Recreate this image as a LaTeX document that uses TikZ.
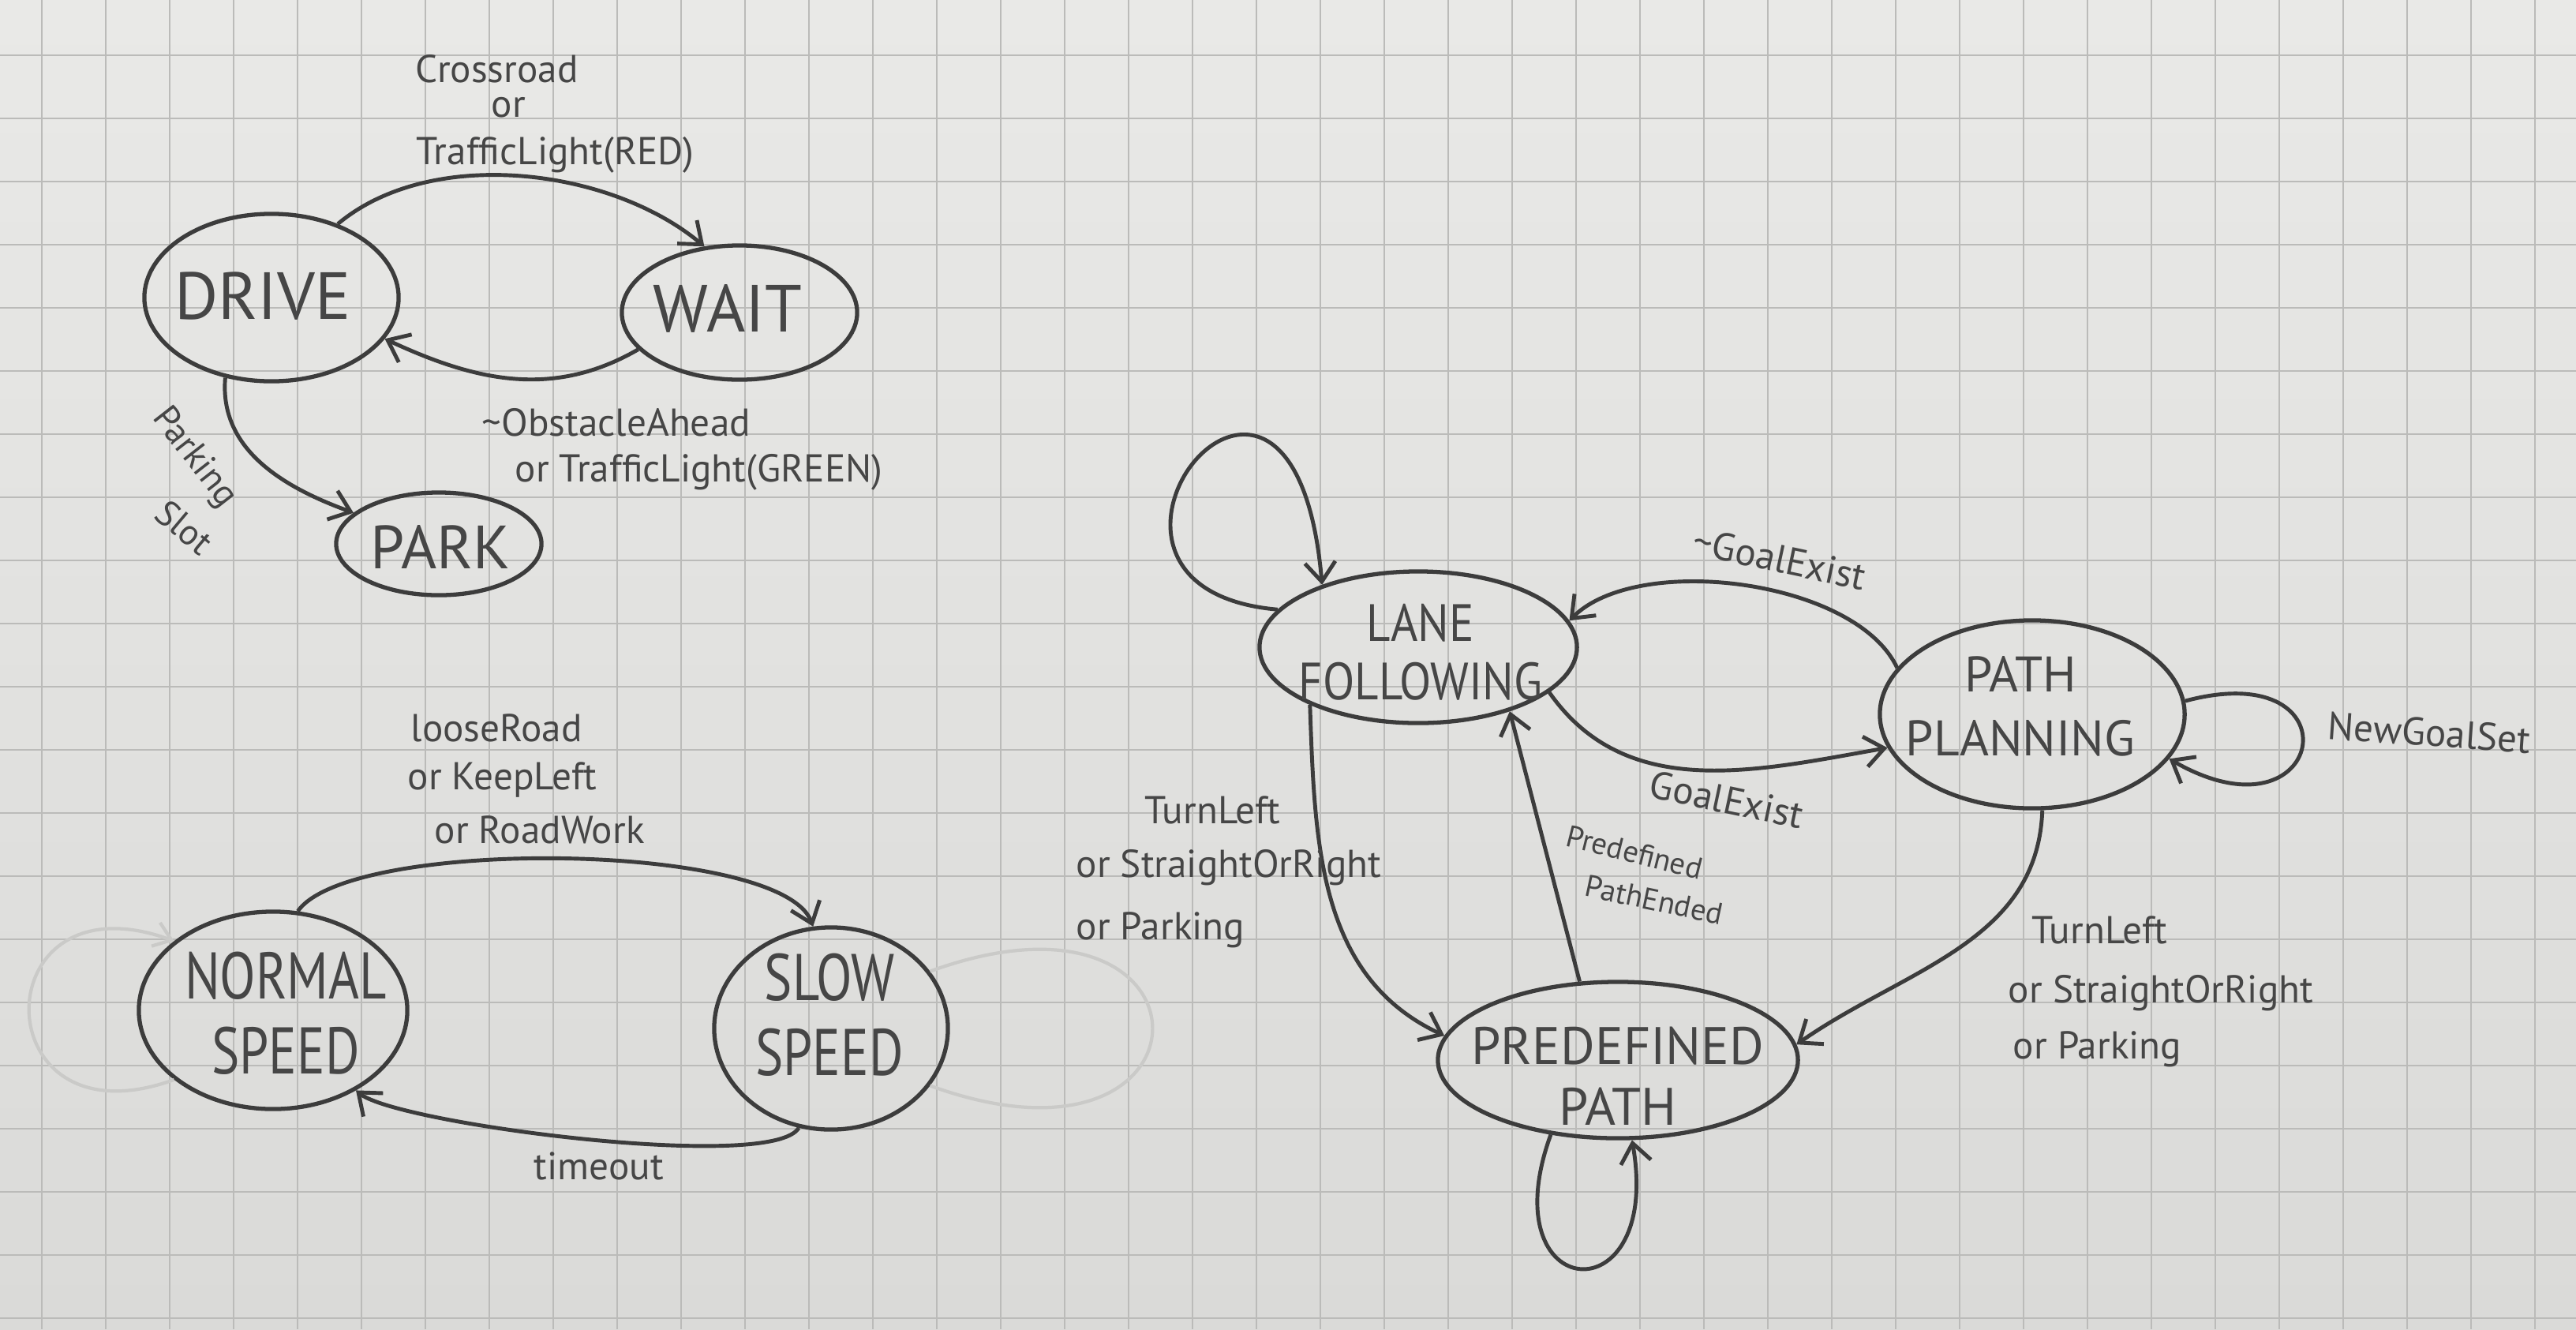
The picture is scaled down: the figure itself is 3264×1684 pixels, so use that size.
\documentclass[tikz,border=0pt]{standalone}
\usepackage{fontspec}
\setmainfont{PT Sans}
\usetikzlibrary{shapes.geometric,arrows.meta}
\definecolor{pencil}{HTML}{3C3C3C}
\definecolor{pentext}{HTML}{464646}
\definecolor{papertop}{HTML}{E9E9E7}
\definecolor{paperbot}{HTML}{DADAD8}
\definecolor{gridc}{HTML}{BBBBB9}
\definecolor{faint}{HTML}{CACAC8}
\newcommand{\hwn}[1]{\scalebox{0.86}[1.08]{#1}}
\begin{document}
\begin{tikzpicture}[x=0.01cm,y=0.01cm,
  state/.style={ellipse, draw=pencil, line width=1.5pt, inner sep=0pt},
  stxt/.style={text=pentext, align=center, inner sep=0pt},
  trans/.style={draw=pencil, line width=1.4pt, -{Straight Barb[length=7pt,width=11pt,line width=1.4pt]}},
  lbl/.style={text=pentext, font=\fontsize{14}{16}\selectfont, inner sep=0pt},
  small/.style={text=pentext, font=\fontsize{11}{13}\selectfont, inner sep=0pt},
  erased/.style={draw=faint, line width=1.2pt}
]
\useasboundingbox (0,0) rectangle (3264,-1684);
\shade[top color=papertop, bottom color=paperbot] (0,0) rectangle (3264,-1684);
\foreach \x in {53,134,...,3264} \draw[gridc, line width=0.7pt] (\x,0) -- (\x,-1684);
\foreach \y in {70,150,...,1684} \draw[gridc, line width=0.7pt] (0,-\y) -- (3264,-\y);

% ---- states ----
\node[state, minimum width=3.22cm, minimum height=2.12cm] (drive) at (344,-377) {};
\node[stxt, font=\fontsize{24}{26}\selectfont] (drivet) at (333,-375) {DRIVE};
\node[state, minimum width=2.98cm, minimum height=1.70cm] (wait) at (937,-396) {};
\node[stxt, font=\fontsize{24}{26}\selectfont] (waitt) at (922,-391) {WAIT};
\node[state, minimum width=2.60cm, minimum height=1.30cm] (park) at (556,-689) {};
\node[stxt, font=\fontsize{22}{24}\selectfont] (parkt) at (558,-693) {PARK};

\node[state, minimum width=3.40cm, minimum height=2.50cm] (normal) at (346,-1280) {};
\node[stxt, font=\fontsize{22}{27}\selectfont] (normalt) at (362,-1284) {\hwn{NORMAL}\\\hwn{SPEED}};
\node[state, minimum width=2.96cm, minimum height=2.56cm] (slow) at (1053,-1303) {};
\node[stxt, font=\fontsize{22}{27}\selectfont] (slowt) at (1051,-1286) {\hwn{SLOW}\\\hwn{SPEED}};

\node[state, minimum width=4.02cm, minimum height=1.92cm] (lane) at (1797,-820) {};
\node[stxt, font=\fontsize{18}{21}\selectfont] (lanet) at (1800,-826) {\scalebox{0.93}[1.05]{LANE}\\\scalebox{0.93}[1.05]{FOLLOWING}};
\node[state, minimum width=3.86cm, minimum height=2.38cm] (path) at (2575,-905) {};
\node[stxt, font=\fontsize{18}{23}\selectfont] (patht) at (2560,-895) {PATH\\PLANNING};
\node[state, minimum width=4.56cm, minimum height=1.98cm] (predef) at (2050,-1343) {};
\node[stxt, font=\fontsize{19}{22}\selectfont] (predeft) at (2050,-1363) {PREDEFINED\\PATH};

% ---- erased loops ----
\draw[erased, -{Straight Barb[length=6pt,width=9pt]}] (normal.215) .. controls +(200:260) and +(160:260) .. (normal.145);
\draw[erased] (slow.30) .. controls +(20:400) and +(-20:400) .. (slow.-30);

% ---- transitions ----
\draw[trans] (drive.48) to[out=40, in=140, looseness=0.85] (wait.118);
\draw[trans] (wait.200) to[out=210, in=-25] (drive.-20);
\draw[trans] (drive.240) to[out=265, in=160] (park.160);

\draw[trans] (normal.76) to[out=55, in=110, looseness=0.45] (slow.100);
\draw[trans] (slow.252) to[out=240, in=-40, looseness=0.3] (normal.-44);

\draw[trans] (path.161) to[out=115, in=45, looseness=0.75] (lane.10);
\draw[trans] (lane.-19) to[out=-55, in=190] (path.193);
\draw[trans] (lane.208) to[out=272, in=155] (predef.172);
\draw[trans] (predef.116) -- (lane.325);
\draw[trans] (path.276) to[out=268, in=35] (predef.5);

\draw[trans] (lane.165) .. controls +(175:320) and +(95:430) .. (lane.147);
\draw[trans] (path.5) .. controls +(15:230) and +(-30:230) .. (path.-18);
\draw[trans] (predef.228) .. controls +(250:230) and +(280:230) .. (predef.280);

% ---- labels ----
\node[lbl, anchor=base west] (l1a) at (526,-104) {Crossroad};
\node[lbl, anchor=base west] (l1b) at (622,-148) {or};
\node[lbl, anchor=base west] (l1c) at (527,-208) {TrafficLight(RED)};

\node[lbl, anchor=base west] (l2a) at (610,-552) {\textasciitilde ObstacleAhead};
\node[lbl, anchor=base west] (l2b) at (652,-610) {or TrafficLight(GREEN)};

\node[lbl, font=\fontsize{13}{15}\selectfont, rotate=-52] (l3a) at (246,-580) {Parking};
\node[lbl, font=\fontsize{13}{15}\selectfont, rotate=-40] (l3b) at (234,-668) {Slot};

\node[lbl, anchor=base west] (l4a) at (520,-939) {looseRoad};
\node[lbl, anchor=base west] (l4b) at (516,-1000) {or KeepLeft};
\node[lbl, anchor=base west] (l4c) at (550,-1068) {or RoadWork};

\node[lbl, anchor=base west] (l5) at (676,-1494) {timeout};

\node[lbl, rotate=-12] (l6) at (2255,-708) {\textasciitilde GoalExist};
\node[lbl, rotate=-12] (l7) at (2188,-1013) {GoalExist};
\node[lbl, rotate=-4] (l8) at (3078,-928) {NewGoalSet};

\node[small, rotate=-14] (l9a) at (2071,-1080) {Predefined};
\node[small, rotate=-12] (l9b) at (2096,-1140) {PathEnded};

\node[lbl, anchor=base west] (l10a) at (1450,-1043) {TurnLeft};
\node[lbl, anchor=base west] (l10b) at (1363,-1111) {or StraightOrRight};
\node[lbl, anchor=base west] (l10c) at (1363,-1190) {or Parking};

\node[lbl, anchor=base west] (l11a) at (2574,-1195) {TurnLeft};
\node[lbl, anchor=base west] (l11b) at (2544,-1270) {or StraightOrRight};
\node[lbl, anchor=base west] (l11c) at (2550,-1341) {or Parking};
\end{tikzpicture}
\end{document}
